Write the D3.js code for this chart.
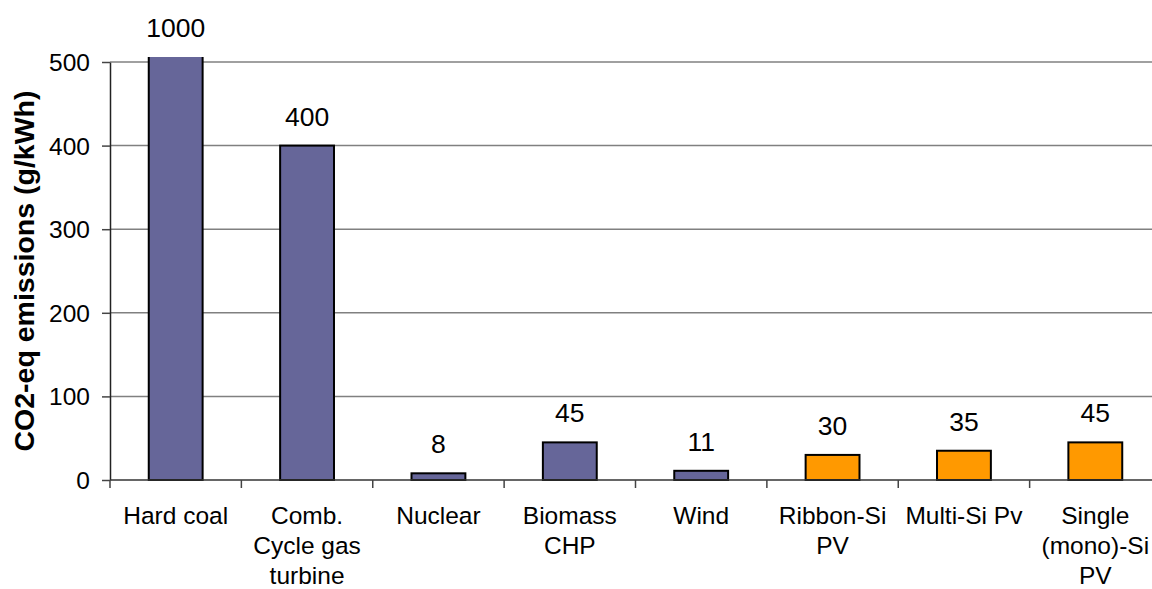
<!DOCTYPE html>
<html>
<head>
<meta charset="utf-8">
<script src="https://cdn.jsdelivr.net/npm/d3@7"></script>
<style>
  html, body { margin: 0; padding: 0; background: #fff; }
  svg { display: block; font-family: Arial, "Liberation Sans", sans-serif; }
</style>
</head>
<body>
<svg id="chart" width="1152" height="589"></svg>
<script>
// Life-cycle CO2-equivalent emissions per kWh of electricity, by technology
const categories = [
  ["Hard coal"],
  ["Comb.", "Cycle gas", "turbine"],
  ["Nuclear"],
  ["Biomass", "CHP"],
  ["Wind"],
  ["Ribbon-Si", "PV"],
  ["Multi-Si Pv"],
  ["Single", "(mono)-Si", "PV"]
];
const emissions = [1000, 400, 8, 45, 11, 30, 35, 45];
const groups = ["conv", "conv", "conv", "conv", "conv", "pv", "pv", "pv"];
const yTicks = [0, 100, 200, 300, 400, 500];
const yTitle = "CO2-eq emissions (g/kWh)";

const colors = { conv: "#666699", pv: "#FF9900" };

const svg = d3.select("#chart");
const plot = { left: 110, top: 62, bottom: 480, right: 1161 };

const keys = categories.map((c, i) => i);
const x = d3.scaleBand().domain(keys).range([plot.left, plot.right]).padding(0);
const y = d3.scaleLinear().domain([0, 500]).range([plot.bottom, plot.top]);
const barW = x.bandwidth() * 0.41;

// clip region: bars taller than the axis maximum are cut just above it
svg.append("defs").append("clipPath").attr("id", "plotClip")
  .append("rect")
  .attr("x", plot.left).attr("y", y(506))
  .attr("width", plot.right - plot.left).attr("height", plot.bottom - y(506) + 2);

// horizontal gridlines
svg.append("g")
  .selectAll("line")
  .data(yTicks.filter(t => t > 0))
  .join("line")
  .attr("x1", plot.left).attr("x2", plot.right)
  .attr("y1", d => y(d)).attr("y2", d => y(d))
  .attr("stroke", "#808080").attr("stroke-width", 1.5);

// bars
svg.append("g").attr("clip-path", "url(#plotClip)")
  .selectAll("rect")
  .data(emissions)
  .join("rect")
  .attr("x", (d, i) => x(i) + (x.bandwidth() - barW) / 2)
  .attr("y", d => y(d))
  .attr("width", barW)
  .attr("height", d => plot.bottom - y(d))
  .attr("fill", (d, i) => colors[groups[i]])
  .attr("stroke", "#000").attr("stroke-width", 2);

// value labels above each bar (tall bars labelled at the clipped top)
svg.append("g")
  .selectAll("text")
  .data(emissions)
  .join("text")
  .attr("x", (d, i) => x(i) + x.bandwidth() / 2)
  .attr("y", d => Math.max(y(d), y(506)) - 20)
  .attr("text-anchor", "middle")
  .attr("font-size", 26.5)
  .attr("fill", "#000")
  .text(d => d);

// y axis
const yAxis = svg.append("g")
  .attr("transform", `translate(${plot.left},0)`)
  .call(d3.axisLeft(y).tickValues(yTicks).tickSize(8).tickPadding(12).tickSizeOuter(0));
yAxis.select(".domain").attr("stroke", "#222").attr("stroke-width", 1.5);
yAxis.selectAll(".tick line").attr("stroke", "#444").attr("stroke-width", 1.5);
yAxis.selectAll(".tick text")
  .attr("font-size", 24.5).attr("font-family", "Arial, 'Liberation Sans', sans-serif")
  .attr("fill", "#000").attr("dy", "0.35em");

// x axis: ticks sit on the category boundaries
const xAxis = svg.append("g")
  .attr("transform", `translate(0,${plot.bottom})`);
xAxis.append("line")
  .attr("x1", plot.left).attr("x2", plot.right)
  .attr("stroke", "#333").attr("stroke-width", 1.5);
xAxis.selectAll("line.tick")
  .data(keys)
  .join("line")
  .attr("class", "tick")
  .attr("x1", d => x(d)).attr("x2", d => x(d))
  .attr("y1", 0).attr("y2", 8)
  .attr("stroke", "#444").attr("stroke-width", 1.5);

// category labels, one text per line
const catLabels = svg.append("g");
categories.forEach((lines, i) => {
  lines.forEach((ln, j) => {
    catLabels.append("text")
      .attr("x", x(i) + x.bandwidth() / 2)
      .attr("y", 524 + j * 30)
      .attr("text-anchor", "middle")
      .attr("font-size", 24.5)
      .attr("fill", "#000")
      .text(ln);
  });
});

// y axis title
svg.append("text")
  .attr("transform", `translate(34,${(plot.top + plot.bottom) / 2}) rotate(-90)`)
  .attr("text-anchor", "middle")
  .attr("font-size", 28.5)
  .attr("font-weight", "bold")
  .attr("fill", "#000")
  .text(yTitle);
</script>
</body>
</html>
